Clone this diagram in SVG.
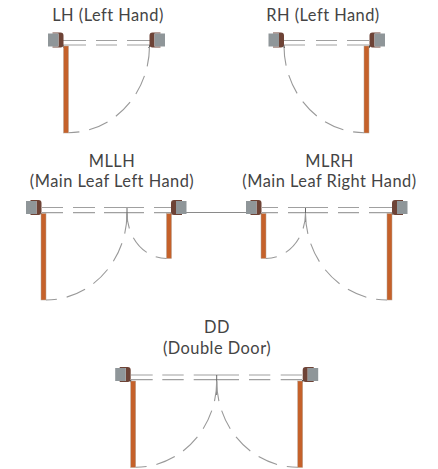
<svg xmlns="http://www.w3.org/2000/svg" xmlns:xlink="http://www.w3.org/1999/xlink" width="438" height="469" viewBox="0 0 438 469">
<style>
text{font-family:"Lato","Noto Sans",sans-serif;font-size:16.4px;letter-spacing:.48px;fill:#444;text-anchor:middle}
.track{stroke:#a0a0a0;stroke-width:1.2;fill:none}
.stick{stroke:#666;stroke-width:1;fill:none}
.swing{stroke:#999;stroke-width:1.1;fill:none;stroke-dasharray:20 10;stroke-dashoffset:9}
.leaf{fill:#c5612a;stroke:#b5a598;stroke-width:.5}
.wall{stroke:#8a8a8a;stroke-width:1;fill:none}
</style>
<defs>
<g id="jamb">
<path d="M-11-14H-3Q0-14 0-11V-2Q0 1-3 1H-11V0H-5V-13H-11Z" fill="#6e4336"/>
<rect x="-15.500" y="-13" width="10.500" height="13" fill="#8f9699"/>
<path d="M0-1V1H1" stroke="#222" stroke-width="1" fill="none"/>
</g>
</defs>
<g id="connectors">
<path class="wall" d="M186 212.500H247"/>
</g>
<g id="door-lh">
<text x="108" y="21">LH (Left Hand)</text>
<path class="track" d="M63 40.500H86M96 40.500H117M127 40.500H150M63 45H86M96 45H117M127 45H150"/>
<use xlink:href="#jamb" href="#jamb" transform="translate(63.500 46.500)"/>
<use xlink:href="#jamb" href="#jamb" transform="translate(149.500 46.500) scale(-1 1)"/>
<rect class="leaf" x="63.500" y="46" width="5" height="87"/>
<path class="swing" d="M68.500 132.700A81 87 0 0 0 149.500 46"/>
</g>
<g id="door-rh">
<text x="323" y="21">RH (Left Hand)</text>
<path class="track" d="M284 40.500H305M316 40.500H337M347 40.500H369M284 45H305M316 45H337M347 45H369"/>
<use xlink:href="#jamb" href="#jamb" transform="translate(284 46.500)"/>
<use xlink:href="#jamb" href="#jamb" transform="translate(369.500 46.500) scale(-1 1)"/>
<rect class="leaf" x="364" y="46" width="5" height="87"/>
<path class="swing" d="M364 132.700A80 87 0 0 1 284 46"/>
</g>
<g id="door-mllh">
<text x="112" y="167">MLLH</text>
<text x="112" y="187">(Main Leaf Left Hand)</text>
<path class="track" d="M42 207.500H63M73 207.500H95M104 207.500H144M154 207.500H171M42 212.700H63M73 212.700H95M104 212.700H144M154 212.700H171"/>
<path class="stick" d="M127 208V222"/>
<use xlink:href="#jamb" href="#jamb" transform="translate(41.500 214)"/>
<use xlink:href="#jamb" href="#jamb" transform="translate(171 214) scale(-1 1)"/>
<rect class="leaf" x="41" y="213.500" width="5" height="86.500"/>
<rect class="leaf" x="166.500" y="213.500" width="5" height="45"/>
<path class="swing" d="M46 300A81 87 0 0 0 127 213"/>
<path class="swing" d="M166.500 258.500A39.500 45.500 0 0 1 127 213"/>
</g>
<g id="door-mlrh">
<text x="329.500" y="167">MLRH</text>
<text x="329.500" y="187">(Main Leaf Right Hand)</text>
<path class="track" d="M262 207.500H278M288 207.500H328M338 207.500H359M369 207.500H392M262 212.700H278M288 212.700H328M338 212.700H359M369 212.700H392"/>
<path class="stick" d="M305.500 208V222"/>
<use xlink:href="#jamb" href="#jamb" transform="translate(261.500 214)"/>
<use xlink:href="#jamb" href="#jamb" transform="translate(392 214) scale(-1 1)"/>
<rect class="leaf" x="261" y="213.500" width="5" height="45"/>
<rect class="leaf" x="387" y="213.500" width="5" height="86.500"/>
<path class="swing" d="M266 258.500A39.500 45.500 0 0 0 305.500 213"/>
<path class="swing" d="M387 300A81.500 87 0 0 1 305.500 213"/>
</g>
<g id="door-dd">
<text x="217" y="333">DD</text>
<text x="217" y="354">(Double Door)</text>
<path class="track" d="M131 375H152.700M162.300 375H183.700M193.700 375H239M249 375H270.300M280.700 375H302M131 379.700H152.700M162.300 379.700H183.700M193.700 379.700H239M249 379.700H270.300M280.700 379.700H302"/>
<path class="stick" d="M216.700 375V395"/>
<use xlink:href="#jamb" href="#jamb" transform="translate(130.700 381)"/>
<use xlink:href="#jamb" href="#jamb" transform="translate(302.700 381) scale(-1 1)"/>
<rect class="leaf" x="130.700" y="381" width="5" height="86.500"/>
<rect class="leaf" x="297.700" y="381" width="5" height="86.500"/>
<path class="swing" d="M135.700 467.300A81 86.300 0 0 0 216.700 381"/>
<path class="swing" d="M297.700 467.300A81 86.300 0 0 1 216.700 381"/>
</g>
</svg>
